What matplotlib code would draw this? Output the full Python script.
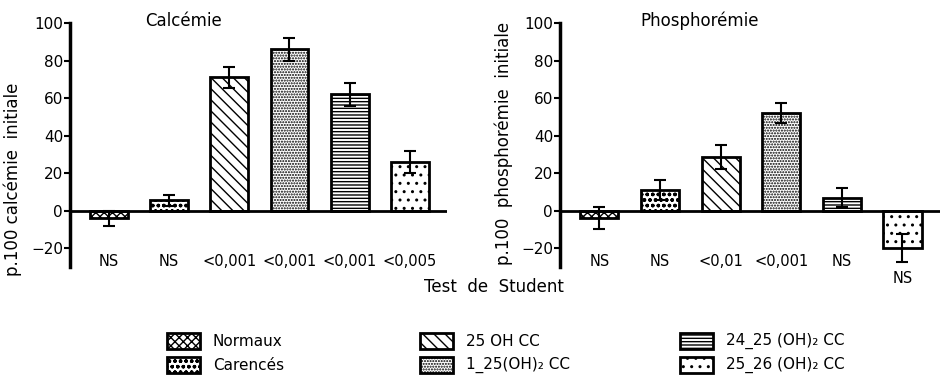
"""Calcémie / phosphorémie bar charts (p.100 of initial value) with legend."""
import matplotlib
matplotlib.use("Agg")
import matplotlib.pyplot as plt
from matplotlib.patches import Rectangle

plt.rcParams["font.family"] = "DejaVu Sans"
plt.rcParams["hatch.linewidth"] = 1.0

groups = ["Normaux", "Carencés", "25 OH CC", "1_25(OH)₂ CC",
          "24_25 (OH)₂ CC", "25_26 (OH)₂ CC"]
hatches = ["xxxx", "ooo", "\\\\\\", "......", "-----", ".."]

calc_values = [-4, 5.5, 71, 86, 62, 26]
calc_errors = [4, 3, 5.5, 6, 6, 6]
calc_tests = ["NS", "NS", "<0,001", "<0,001", "<0,001", "<0,005"]

phos_values = [-4, 11, 28.5, 52, 7, -20]
phos_errors = [6, 5.5, 6.5, 5.5, 5, 7.5]
phos_tests = ["NS", "NS", "<0,01", "<0,001", "NS", "NS"]

W, H = 944, 377
fig = plt.figure(figsize=(W / 100, H / 100), dpi=100)


def panel(rect, values, errors, tests, title, ylabel, title_x, ylab_xy):
    ax = fig.add_axes(rect)
    x = list(range(len(values)))
    ax.bar(x, values, width=0.63, color="white", edgecolor="black",
           linewidth=2, hatch=hatches, zorder=2)
    ax.errorbar(x, values, yerr=errors, fmt="none", ecolor="black",
                elinewidth=1.5, capsize=4, capthick=1.5, zorder=3)
    ax.axhline(0, color="black", lw=2, zorder=4)
    ax.set_xlim(-0.65, 5.62)
    ax.set_ylim(-30, 100)
    ax.set_yticks([-20, 0, 20, 40, 60, 80, 100])
    ax.tick_params(axis="y", direction="out", length=4, width=1.5,
                   labelsize=11, pad=1)
    ax.set_xticks([])
    for s in ["top", "right", "bottom"]:
        ax.spines[s].set_visible(False)
    ax.spines["left"].set_linewidth(2.5)
    for xi, v, t in zip(x, values, tests):
        y = -36 if v < -10 else -27
        ax.text(xi, y, t, ha="center", va="center", fontsize=10.5,
                clip_on=False)
    ax.text(title_x, 1.008, title, transform=ax.transAxes, ha="center",
            va="center", fontsize=12)
    ax.set_ylabel(ylabel, fontsize=12)
    ax.yaxis.set_label_coords(*ylab_xy)
    return ax


b, h = 1 - 267 / H, 244 / H
panel([70 / W, b, 377 / W, h], calc_values, calc_errors, calc_tests,
      "Calcémie", "p.100 calcémie  initiale", 0.30, (-0.127, 0.36))
panel([560 / W, b, 380 / W, h], phos_values, phos_errors, phos_tests,
      "Phosphorémie", "p.100  phosphorémie  initiale", 0.368, (-0.124, 0.508))

fig.text(494 / W, 1 - 287 / H, "Test  de  Student", ha="center",
         va="center", fontsize=12)

# legend, drawn by hand in three columns
col_x = [167, 420, 680]
row_y = [341, 365]
for i, (name, hatch) in enumerate(zip(groups, hatches)):
    px, py = col_x[i // 2], row_y[i % 2]
    fig.add_artist(Rectangle((px / W, 1 - (py + 8) / H), 33 / W, 16 / H,
                             transform=fig.transFigure, facecolor="white",
                             edgecolor="black", linewidth=2, hatch=hatch))
    fig.text((px + 46) / W, 1 - py / H, name, ha="left", va="center",
             fontsize=11)

fig.savefig("out.png", dpi=100)
